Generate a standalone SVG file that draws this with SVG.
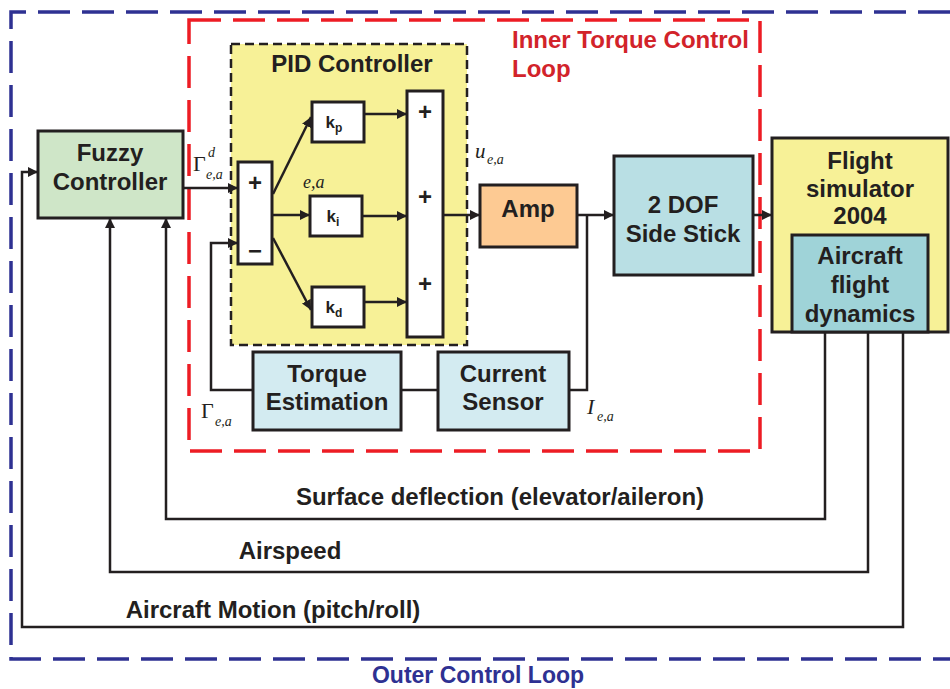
<svg xmlns="http://www.w3.org/2000/svg" width="950" height="689" viewBox="0 0 950 689">
<defs>
<marker id="ah" viewBox="0 0 10 10" refX="10" refY="5" markerWidth="10" markerHeight="10" markerUnits="userSpaceOnUse" orient="auto">
<path d="M0,0 L10,5 L0,10 z" fill="#231f20"/>
</marker>
<style>
.box{stroke:#231f20;stroke-width:3}
.lbl{font-family:"Liberation Sans",Arial,sans-serif;font-weight:bold;fill:#231f20;text-anchor:middle}
.big{font-size:24px}
.k{font-size:17px}
.math{font-family:"Liberation Serif","Times New Roman",serif;font-style:italic;fill:#231f20}
.up{font-style:normal}
.ln{fill:none;stroke:#231f20;stroke-width:2.5}
.arr{fill:none;stroke:#231f20;stroke-width:2.5;marker-end:url(#ah)}
</style>
</defs>
<rect width="950" height="689" fill="#ffffff"/>

<g id="outer-loop">
<path d="M950,12 H11 V659 H950" fill="none" stroke="#2e3192" stroke-width="3.5" stroke-dasharray="32,12"/>
<text x="478" y="683" class="lbl" font-size="23" style="fill:#2e3192">Outer Control Loop</text>
</g>
<g id="inner-loop">
<rect x="189" y="20" width="571" height="431" fill="none" stroke="#ed1c24" stroke-width="3.5" stroke-dasharray="32,12"/>
<text x="512" y="48" style="font-family:'Liberation Sans',Arial,sans-serif;font-weight:bold;font-size:24px;fill:#d2232a">Inner Torque Control</text>
<text x="512" y="77" style="font-family:'Liberation Sans',Arial,sans-serif;font-weight:bold;font-size:24px;fill:#d2232a">Loop</text>
</g>

<g id="pid">
<rect x="231" y="44" width="236" height="301" fill="#f7f197" stroke="#231f20" stroke-width="2.5" stroke-dasharray="9,5"/>
<text x="352" y="72" class="lbl big">PID Controller</text>
</g>

<g id="fuzzy">
<rect class="box" x="38" y="131" width="145" height="87" fill="#cfe6c8"/>
<text x="110" y="161" class="lbl big">Fuzzy</text>
<text x="110" y="190" class="lbl big">Controller</text>
</g>

<g id="summer">
<rect class="box" x="238" y="162" width="34" height="102" fill="#ffffff"/>
<text x="255" y="191" class="lbl big">+</text>
<text x="255" y="259" class="lbl big">−</text>
</g>

<g id="kp">
<rect class="box" x="312" y="102" width="52" height="40" fill="#ffffff"/>
<text x="334" y="128" class="lbl k">k<tspan font-size="12" dy="4">p</tspan></text>
</g>
<g id="ki">
<rect class="box" x="310" y="196" width="52" height="40" fill="#ffffff"/>
<text x="333" y="222" class="lbl k">k<tspan font-size="12" dy="4">i</tspan></text>
</g>
<g id="kd">
<rect class="box" x="312" y="287" width="52" height="40" fill="#ffffff"/>
<text x="334" y="313" class="lbl k">k<tspan font-size="12" dy="4">d</tspan></text>
</g>

<g id="sum2">
<rect class="box" x="407" y="91" width="36" height="246" fill="#ffffff"/>
<text x="425" y="120" class="lbl big">+</text>
<text x="425" y="205" class="lbl big">+</text>
<text x="425" y="292" class="lbl big">+</text>
</g>

<g id="amp">
<rect class="box" x="480" y="185" width="97" height="62" fill="#fdca93"/>
<text x="528" y="217" class="lbl big">Amp</text>
</g>

<g id="sidestick">
<rect class="box" x="614" y="156" width="139" height="119" fill="#b9dfe4"/>
<text x="683" y="213" class="lbl big">2 DOF</text>
<text x="683" y="242" class="lbl big">Side Stick</text>
</g>

<g id="flightsim">
<rect class="box" x="772" y="138" width="176" height="194" fill="#f7f197"/>
<text x="860" y="169" class="lbl big">Flight</text>
<text x="860" y="197" class="lbl big">simulator</text>
<text x="860" y="224" class="lbl big">2004</text>
</g>
<g id="dynamics">
<rect class="box" x="792" y="235" width="136" height="97" fill="#9fd3d8"/>
<text x="860" y="264" class="lbl big">Aircraft</text>
<text x="860" y="293" class="lbl big">flight</text>
<text x="860" y="322" class="lbl big">dynamics</text>
</g>

<g id="torque">
<rect class="box" x="253" y="352" width="148" height="78" fill="#d3ebf1"/>
<text x="327" y="382" class="lbl big">Torque</text>
<text x="327" y="410" class="lbl big">Estimation</text>
</g>
<g id="current">
<rect class="box" x="438" y="352" width="131" height="78" fill="#d3ebf1"/>
<text x="503" y="382" class="lbl big">Current</text>
<text x="503" y="410" class="lbl big">Sensor</text>
</g>

<g id="connectors">
<path class="arr" d="M183,188 H238"/>
<path class="arr" d="M253,390 H211 V243 H238"/>
<path class="arr" d="M273,194 L311,117"/>
<path class="arr" d="M272,215 H310"/>
<path class="arr" d="M273,238 L311,310"/>
<path class="arr" d="M364,114 H407"/>
<path class="arr" d="M362,216 H407"/>
<path class="arr" d="M364,302 H407"/>
<path class="arr" d="M443,215 H480"/>
<path class="arr" d="M577,215 H614"/>
<path class="ln" d="M587,215 V390 H569"/>
<path class="ln" d="M401,390 H438"/>
<path class="arr" d="M753,215 H772"/>
<path class="arr" d="M825,332 V519 H166 V218"/>
<path class="arr" d="M868,332 V572 H110 V218"/>
<path class="arr" d="M903,332 V627 H22 V172 H38"/>
</g>

<g id="labels">
<text x="193" y="171" class="math up" font-size="22">Γ</text>
<text x="208" y="157" class="math" font-size="14">d</text>
<text x="206" y="179" class="math" font-size="14">e,a</text>
<text x="303" y="188" class="math" font-size="18">e,a</text>
<text x="475" y="158" class="math" font-size="21">u</text>
<text x="487" y="164" class="math" font-size="14">e,a</text>
<text x="201" y="418" class="math up" font-size="22">Γ</text>
<text x="215" y="426" class="math" font-size="14">e,a</text>
<text x="587" y="414" class="math" font-size="22">I</text>
<text x="597" y="421" class="math" font-size="14">e,a</text>
<text x="500" y="505" class="lbl big">Surface deflection (elevator/aileron)</text>
<text x="290" y="559" class="lbl big">Airspeed</text>
<text x="273" y="618" class="lbl big">Aircraft Motion (pitch/roll)</text>
</g>
</svg>
